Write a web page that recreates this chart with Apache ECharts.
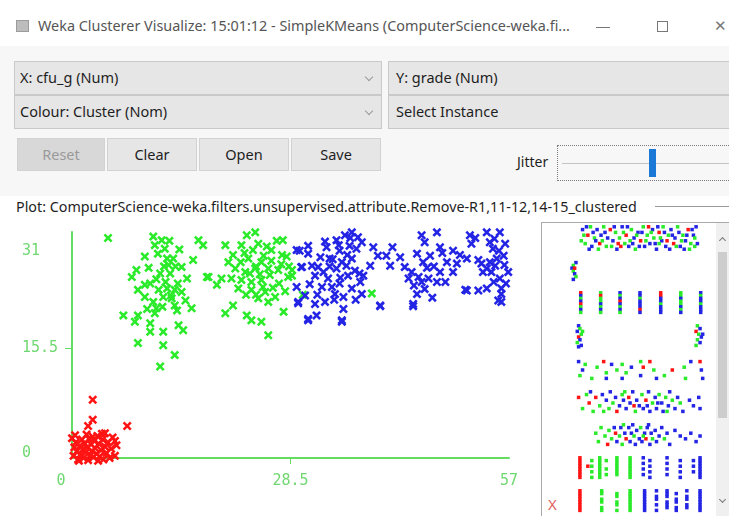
<!DOCTYPE html>
<html>
<head>
<meta charset="utf-8">
<script src="https://cdn.jsdelivr.net/npm/echarts@6/dist/echarts.min.js"></script>
<style>
  html, body { margin: 0; padding: 0; }
  body { width: 729px; height: 516px; position: relative; overflow: hidden; background: #f7f7f7;
         font-family: "Noto Sans", "Open Sans", sans-serif; color: #1e1e1e; }
  .abs { position: absolute; box-sizing: border-box; }
  .titlebar { left: 0; top: 0; width: 729px; height: 46px; background: #fff; }
  .title { left: 38px; top: 16px; font-size: 14.4px; color: #555; white-space: nowrap; }
  .combo { background: #e6e6e6; border: 1px solid #c9c9c9; font-size: 14.5px; line-height: 31px; padding-left: 5px; white-space: nowrap; }
  .chev { width: 6px; height: 6px; border-right: 1px solid #9a9a9a; border-bottom: 1px solid #9a9a9a; transform: rotate(45deg); }
  .btn { top: 138px; height: 33px; background: #e6e6e6; border: 1px solid #d2d2d2; font-size: 14.5px; line-height: 31px; text-align: center; }
  .plotarea { left: 0; top: 196px; width: 729px; height: 320px; background: #fff; }
  #chart { position: absolute; left: 0; top: 0; width: 729px; height: 516px; }
</style>
</head>
<body>
<div class="abs titlebar"></div>
<div class="abs" style="left:16px;top:20px;width:13px;height:12px;background:#bdbdbd;border:1px solid #9c9c9c;"></div>
<div class="abs title">Weka Clusterer Visualize: 15:01:12 - SimpleKMeans (ComputerScience-weka.fi...</div>
<div class="abs" style="left:596px;top:27px;width:14px;height:1px;background:#777;"></div>
<div class="abs" style="left:657px;top:21px;width:11px;height:11px;border:1px solid #777;"></div>
<div class="abs" style="left:714px;top:15px;font-size:15px;color:#777;">✕</div>

<div class="abs combo" style="left:14px;top:61px;width:368px;height:34px;">X: cfu_g (Num)</div>
<div class="abs chev" style="left:366px;top:74px;"></div>
<div class="abs combo" style="left:14px;top:95px;width:368px;height:34px;">Colour: Cluster (Nom)</div>
<div class="abs chev" style="left:366px;top:108px;"></div>
<div class="abs combo" style="left:388px;top:61px;width:360px;height:34px;padding-left:7px;">Y: grade (Num)</div>
<div class="abs combo" style="left:388px;top:95px;width:360px;height:34px;padding-left:7px;">Select Instance</div>

<div class="abs btn" style="left:17px;width:88px;background:#d8d8d8;color:#9a9a9a;">Reset</div>
<div class="abs btn" style="left:107px;width:90px;">Clear</div>
<div class="abs btn" style="left:199px;width:90px;">Open</div>
<div class="abs btn" style="left:291px;width:90px;">Save</div>

<div class="abs" style="left:517px;top:152px;font-size:14px;">Jitter</div>
<div class="abs" style="left:557px;top:145px;width:190px;height:36px;border:1px dotted #7a7a7a;"></div>
<div class="abs" style="left:562px;top:163px;width:170px;height:1px;background:#c4c4c4;"></div>
<div class="abs" style="left:649px;top:149px;width:7px;height:28px;background:#1b78d6;"></div>

<div class="abs plotarea"></div>
<div class="abs" style="left:16px;top:197px;font-size:14.3px;white-space:nowrap;">Plot: ComputerScience-weka.filters.unsupervised.attribute.Remove-R1,11-12,14-15_clustered</div>
<div class="abs" style="left:655px;top:206px;width:80px;height:1px;background:#9a9a9a;"></div>

<div class="abs" style="left:541px;top:222px;width:200px;height:300px;border:1px solid #a9a9a9;background:#fff;"></div>
<div class="abs" style="left:716px;top:223px;width:13px;height:293px;background:#f0f0f0;"></div>
<div class="abs" style="left:718px;top:252px;width:9px;height:166px;background:#cdcdcd;"></div>
<div class="abs" style="left:720px;top:238px;width:5px;height:5px;border-left:1px solid #777;border-top:1px solid #777;transform:rotate(45deg);"></div>
<div class="abs" style="left:720px;top:497px;width:5px;height:5px;border-right:1px solid #777;border-bottom:1px solid #777;transform:rotate(45deg);"></div>
<div class="abs" style="left:548px;top:494px;font-size:15px;color:#e06262;">X</div>

<div id="chart"></div>
<script>
// main scatter: cfu_g (x) vs grade (y), jittered, one array per cluster
const redPts = [[2.7,8.2],[2.7,5.4],[2.1,4.5],[7.2,4.5],[4.3,3.5],[5.6,2.4],[0.0,2.8],[0.3,1.5],[0.2,0.3],[0.5,2.2],
  [0.6,0.9],[0.8,-0.2],[1.0,1.7],[1.1,0.5],[1.3,2.6],[1.4,1.2],[1.5,0.0],[1.7,2.0],[1.8,0.8],[2.0,1.5],[2.1,-0.3],
  [2.2,2.7],[2.4,0.4],[2.5,1.9],[2.6,1.0],[2.8,0.1],[2.9,2.4],[3.0,1.4],[3.2,0.6],[3.3,3.1],[3.5,2.0],[3.6,0.2],
  [3.8,1.1],[4.0,2.6],[4.1,-0.2],[4.3,1.6],[4.5,0.7],[4.7,2.2],[4.9,0.0],[5.1,1.3],[5.3,2.9],[5.6,0.3],[0.4,3.2],
  [1.9,3.3],[2.7,3.0],[3.9,3.4],[0.9,-0.4],[3.4,-0.4],[5.8,1.8]];
const greenPts = [[4.7,31.0],[10.6,31.2],[11.7,30.7],[10.8,30.0],[12.1,29.5],[16.5,30.7],[17.1,30.0],[9.5,28.4],
  [12.4,28.1],[13.2,28.1],[12.6,27.2],[14.3,26.9],[15.8,27.9],[8.4,26.5],[11.5,26.0],[12.8,26.0],[7.8,25.5],
  [15.0,25.3],[17.6,25.5],[9.5,24.4],[10.2,24.6],[8.6,23.7],[11.3,23.7],[12.4,23.9],[13.4,23.7],[14.3,23.4],
  [9.5,22.7],[11.9,22.7],[13.0,22.5],[10.6,22.0],[13.4,21.5],[11.0,21.1],[15.6,21.1],[13.7,20.8],[6.7,20.1],
  [8.6,20.1],[10.8,20.4],[8.2,19.2],[10.2,19.0],[13.9,18.7],[10.2,17.8],[11.9,17.8],[14.5,18.0],[8.6,16.2],
  [11.9,15.9],[13.4,14.5],[11.5,12.9],[11.2,28.8],[12.0,27.0],[13.5,27.0],[11.0,25.2],[13.8,24.6],[12.2,24.8],
  [12.9,22.9],[14.8,22.2],[10.0,26.8],[11.8,21.3],[9.8,21.0],[14.0,29.4],[12.7,30.6],
  [23.9,31.8],[22.8,31.4],[20.0,30.0],[22.1,30.0],[24.3,30.2],[26.0,29.3],[27.4,28.6],[28.0,28.4],[20.4,27.6],
  [23.0,28.1],[24.7,27.6],[21.3,26.7],[22.6,26.2],[23.9,26.7],[25.6,26.7],[26.9,26.5],[17.8,25.5],[19.5,25.3],
  [20.8,25.3],[22.1,25.1],[23.4,24.8],[24.7,25.1],[28.2,25.5],[18.9,24.4],[21.7,23.9],[23.4,23.7],[25.2,23.4],
  [26.5,22.7],[24.3,22.5],[25.6,22.0],[21.0,21.5],[20.0,20.4],[22.8,20.1],[23.4,19.4],[24.7,19.2],[27.6,20.6],
  [25.6,17.3],[39.1,23.2],[28.7,25.7],[30.1,23.0],[27.5,30.7],[28.7,26.5],[22.5,28.9],[24.0,27.0],[25.0,28.5],
  [26.0,27.8],[23.2,26.0],[24.5,25.9],[25.8,25.8],[27.0,24.6],[22.0,27.6],[26.2,24.0],[24.0,23.0],[27.3,27.3],
  [23.6,29.3],[25.4,29.8],[21.0,28.6],[28.3,27.0],[26.7,30.6],[24.9,24.1],[22.7,23.0],[27.8,23.5]];
const bluePts = [[29.7,29.2],[30.8,29.9],[30.8,28.8],[29.9,26.9],[29.3,24.1],[29.5,22.0],[30.8,19.6],[31.9,20.1],
  [30.4,22.9],[31.7,21.7],[33.0,22.0],[33.2,29.7],[34.5,30.7],[35.6,31.4],[36.5,31.8],[37.3,31.1],[37.8,30.4],
  [37.1,29.5],[34.9,29.2],[33.6,28.1],[32.8,26.2],[31.7,25.7],[31.3,27.1],[32.1,26.9],[33.4,25.3],[34.5,26.7],
  [35.8,27.1],[36.5,28.1],[36.9,26.4],[36.0,25.7],[34.9,24.6],[33.9,24.1],[32.6,24.1],[34.3,23.1],[35.4,22.7],
  [36.5,23.9],[37.6,24.8],[38.0,25.7],[38.9,27.1],[39.3,29.7],[39.9,28.5],[41.0,28.5],[37.8,23.1],[40.2,21.5],
  [35.4,21.0],[35.2,19.4],[41.5,27.1],[42.8,28.3],[43.4,26.9],[44.3,26.2],[43.9,25.3],[45.6,31.4],[46.0,30.4],
  [45.0,28.8],[45.8,27.6],[46.7,28.5],[47.6,31.8],[48.0,29.7],[49.7,29.2],[48.9,27.6],[48.0,26.2],[46.5,25.3],
  [45.2,25.5],[47.6,24.8],[48.7,24.8],[49.7,26.2],[50.2,27.4],[45.0,23.1],[44.5,21.7],[51.9,31.4],[52.1,30.2],
  [54.1,31.8],[54.5,30.4],[55.8,31.8],[56.5,30.2],[54.9,29.5],[51.5,28.1],[53.4,27.4],[54.1,26.7],[55.4,28.1],
  [56.3,28.5],[56.9,26.2],[55.8,25.3],[56.0,23.9],[55.6,22.2],[56.0,23.1],[51.5,23.6],[53.0,23.6],[54.1,23.9],
  [55.2,27.1],[54.5,27.6],[53.6,26.2],[29.3,29.3],[30.0,26.9],[29.5,21.8],[30.8,19.4],[35.2,19.2],[40.2,21.4],
  [44.5,21.4],[51.3,23.7],[56.0,22.0],[34.0,28.0],[35.2,27.6],[33.6,27.0],[35.0,25.4],[36.2,29.9],[33.0,30.5],
  [37.5,26.0],[34.2,22.3],[32.0,23.0],[31.0,24.5],[46.3,26.8],[47.2,27.0],[44.6,24.3],[45.6,24.8],[48.3,28.9],
  [53.0,27.9],[54.7,26.2],[55.0,24.8],[56.4,27.2],[55.1,30.9],[52.6,31.0],[56.6,24.6],[41.8,29.7],[36.3,31.0],
  [34.8,30.0],[35.9,28.6],[32.4,28.3],[37.0,22.3],[47.0,22.6],[46.0,23.8],[50.6,28.6],[55.7,29.2]];

const xTickValues = [0, 28.5, 57];
const yTickValues = [0, 15.5, 31];

// attribute strips on the right: [position 0-100, jitter 0-10, cluster]
const attr1 = [[8,8,2],[10,3,1],[12,6,0],[14,9,1],[15,2,2],[17,5,1],[19,8,2],[21,3,0],[22,6,2],[24,9,1],[26,2,1],
  [27,5,2],[29,8,0],[31,4,2],[33,7,1],[34,1,2],[36,5,1],[38,9,2],[40,3,1],[41,6,0],[43,2,2],[45,8,1],[47,5,2],
  [48,1,1],[50,7,2],[52,4,0],[54,9,1],[55,2,2],[57,6,1],[59,3,2],[61,8,2],[62,5,1],[64,1,2],[66,7,0],[68,4,2],
  [69,9,1],[71,2,2],[73,6,1],[75,8,2],[77,3,0],[78,5,2],[80,9,1],[82,2,2],[84,6,1],[86,4,2],[88,8,0],[90,3,1],
  [92,6,2],[94,9,2],[7,4,1],[11,9,2],[20,1,1],[37,2,0],[58,9,0],[85,1,2],[93,2,1],[18,4,2],[44,4,1],[66,3,1],
  [9,6,1],[13,1,2],[16,7,2],[23,4,1],[25,7,2],[30,2,1],[32,9,2],[35,3,0],[39,7,1],[42,9,2],[46,3,2],[49,6,1],
  [51,2,2],[53,7,2],[56,4,1],[60,7,1],[63,3,2],[65,9,2],[67,5,1],[70,7,2],[72,4,0],[74,1,2],[76,6,2],[79,2,1],
  [81,7,2],[83,4,1],[87,6,2],[89,1,1],[91,8,2],[93,5,1],[95,3,2]];
const attr2 = [[3,8,2],[1,7,1],[0,6,2],[1,5,1],[2,4,2],[3,3,1],[1,2,2],[2,6,0]];
const attr3Cols = [[6.6,[[9,0],[8,2],[7,1],[6,2],[5,0],[4,1],[3,2],[2,1]]],
  [21.7,[[9,1],[8,0],[7,1],[6,1],[5,2],[4,1],[3,2],[2,1]]],
  [36.4,[[9,2],[8,1],[7,2],[6,0],[5,2],[4,1],[3,2],[2,1]]],
  [51.5,[[9,2],[8,2],[7,1],[6,2],[5,2],[4,2],[3,0],[2,2]]],
  [67.2,[[9,0],[8,0],[7,2],[6,2],[5,1],[4,2],[3,2],[2,2]]],
  [82.4,[[9,1],[8,1],[7,2],[6,1],[5,1],[4,2],[3,1],[2,2]]],
  [97.5,[[9,2],[8,1],[7,2],[6,2],[5,1],[4,2],[3,2],[2,2]]]];
const attr4 = [[5,9,2],[6,8,1],[4,7,2],[7,6,1],[5,5,0],[6,4,2],[4,3,1],[7,2,2],[8,7,1],[5,1.5,2],
  [95,9,1],[97,8,2],[94,7,0],[96,6,1],[98,5,2],[95,4,1],[97,3,2],[94,2,1],[99,6,2]];
const attr5 = [[5,8,2],[8,5,2],[6,3,1],[19,6,1],[24,8,0],[26,4,1],[26,2,2],[38,7,1],[41,4,1],[38,2,2],[52,8,1],
  [52,3,2],[54,6,0],[59,8,0],[62,5,1],[64,2,2],[76,5,0],[85,6,1],[86,2,1],[97,8,0],[98,5,2],[99,2,2],[15,2,1],
  [30,7,2],[45,6,2],[70,3,1],[90,8,2],[10,7,1],[34,5,1]];
const attr6 = [[5,7,0],[8,3,1],[11,8,1],[13,5,0],[16,2,1],[18,7,0],[21,4,1],[23,8,2],[24,2,1],[26,6,2],[28,3,1],
  [29,9,2],[31,5,1],[33,7,2],[34,2,0],[36,4,2],[38,8,1],[39,6,2],[41,3,2],[43,7,0],[44,5,2],[46,9,2],[48,2,1],
  [49,6,2],[51,4,2],[53,8,1],[54,3,2],[56,6,0],[58,9,2],[59,2,2],[61,5,1],[63,7,2],[64,3,2],[66,8,1],[68,5,2],
  [69,2,2],[71,7,1],[73,4,2],[74,9,2],[76,6,1],[78,3,2],[80,7,2],[82,5,1],[84,2,2],[89,6,2],[92,4,2],[96,7,2],
  [97,3,2],[14,9,2],[47,4,0],[40,9,1],[57,4,2],[65,5,2],[72,2,1]];
const attr7 = [[18,6,1],[20,3,1],[22,8,1],[25,5,1],[27,2,0],[28,7,1],[30,4,1],[32,8,2],[33,6,0],[34,3,2],[36,5,1],
  [37,8,2],[38,2,1],[40,6,2],[41,4,0],[43,8,2],[44,3,2],[45,6,2],[47,5,1],[48,2,2],[49,7,2],[51,4,2],[52,8,1],
  [53,3,2],[55,6,2],[56,4,0],[57,8,2],[59,2,2],[60,6,2],[61,4,1],[63,7,2],[64,3,2],[66,5,2],[68,8,2],[70,4,1],
  [72,6,2],[74,2,2],[78,7,2],[82,5,2],[86,4,2],[90,6,2],[94,3,2],[97,5,2],[39,9,1],[58,9,2],[46,9,2],[54,5,1]];
const attr8Cols = [[6,0,[9,8,7,6,5,4,3,2]],[12,0,[6]],[15,1,[8,6,4,2]],[21,1,[9,8,7,6,5,4,3,2]],[26,1,[8,5,3]],
  [34,1,[9,8,7,6,5,4,3]],[44,1,[9,8,7,6,5,4,3,2]],[54,2,[9,7,5,3]],[59,2,[8,6,4,2]],[72,2,[9,7,5,3]],
  [82,2,[8,6,4,2]],[92,2,[8,6,4]],[97,2,[9,8,7,6,5,4,3,2]]];
const attr9Cols = [[6,0,[9,8,7,6,5,4,3,2]],[22.5,1,[9,8,6,5,3,2]],[34,1,[8,7,5,4,2]],[44,1,[9,8,7,6,5,4,3,2]],
  [55,2,[9,8,7,6,5,4,3,2]],[64,2,[9,7,6,4,2]],[72,2,[9,8,7,5,4,3]],[79,2,[8,6,5,3,2]],[87,2,[9,7,6,4,3]],
  [97,2,[9,8,7,6,5,4,3,2]]];

const CLUSTER_COLORS = ['#ff1414', '#2aea2a', '#2424e4'];
const AXIS_GREEN = '#62dd62';
const LABEL_GREEN = '#70d870';
const X_MARK = 'path://M0,2L2,0L5,3L8,0L10,2L7,5L10,8L8,10L5,7L2,10L0,8L3,5Z';

const attr3 = attr3Cols.flatMap(([x, pts]) => pts.map(([y, c]) => [x, y, c]));
const attr8 = attr8Cols.flatMap(([x, c, ys]) => ys.map(y => [x, y, c]));
const attr9 = attr9Cols.flatMap(([x, c, ys]) => ys.map(y => [x, y, c]));
const strips = [attr1, attr2, attr3, attr4, attr5, attr6, attr7, attr8, attr9];

const labelFont = { fontFamily: 'DejaVu Sans Mono', fontSize: 15, color: LABEL_GREEN };

const grids = [{ left: 72, top: 232, width: 437, height: 226 }];
const xAxes = [{
  gridIndex: 0, type: 'value', min: 0, max: 57,
  axisLine: { show: true, onZero: false, lineStyle: { color: AXIS_GREEN, width: 2 } },
  axisTick: { show: true, customValues: [28.5], length: 6, lineStyle: { color: AXIS_GREEN } },
  splitLine: { show: false },
  axisLabel: {
    customValues: xTickValues, margin: 16, ...labelFont,
    formatter: v => v === 0 ? '{l|0}' : String(v),
    rich: { l: { ...labelFont, padding: [0, 22, 0, 0] } }
  }
}];
const yAxes = [{
  gridIndex: 0, type: 'value', min: 0, max: 31.85,
  axisLine: { show: true, onZero: false, lineStyle: { color: AXIS_GREEN, width: 2 } },
  axisTick: { show: true, customValues: [15.5], length: 7, lineStyle: { color: AXIS_GREEN } },
  splitLine: { show: false },
  axisLabel: {
    customValues: yTickValues, margin: 50, align: 'left', ...labelFont,
    formatter: v => v === 31 ? '{t|31}' : v === 0 ? '{b|0}' : String(v),
    rich: { t: { ...labelFont, padding: [26, 0, 0, 0] }, b: { ...labelFont, padding: [0, 0, 10, 0] } }
  }
}];

const series = [redPts, greenPts, bluePts].map((pts, i) => ({
  type: 'scatter', xAxisIndex: 0, yAxisIndex: 0, data: pts, clip: false,
  symbol: X_MARK, symbolSize: 9, itemStyle: { color: CLUSTER_COLORS[i], opacity: 1 }
}));

strips.forEach((pts, i) => {
  grids.push({ left: 572, top: 224 + 33 * i, width: 132, height: 28 });
  xAxes.push({ gridIndex: i + 1, type: 'value', min: 0, max: 100, show: false });
  yAxes.push({ gridIndex: i + 1, type: 'value', min: 0, max: 10, show: false });
  series.push({
    type: 'scatter', xAxisIndex: i + 1, yAxisIndex: i + 1, data: pts, clip: false,
    symbol: 'rect', symbolSize: 3.5,
    itemStyle: { color: p => CLUSTER_COLORS[p.data[2]], opacity: 1 }
  });
});

const chart = echarts.init(document.getElementById('chart'), null, { renderer: 'canvas' });
chart.setOption({
  animation: false,
  backgroundColor: 'transparent',
  grid: grids,
  xAxis: xAxes,
  yAxis: yAxes,
  series: series
});
</script>
</body>
</html>
